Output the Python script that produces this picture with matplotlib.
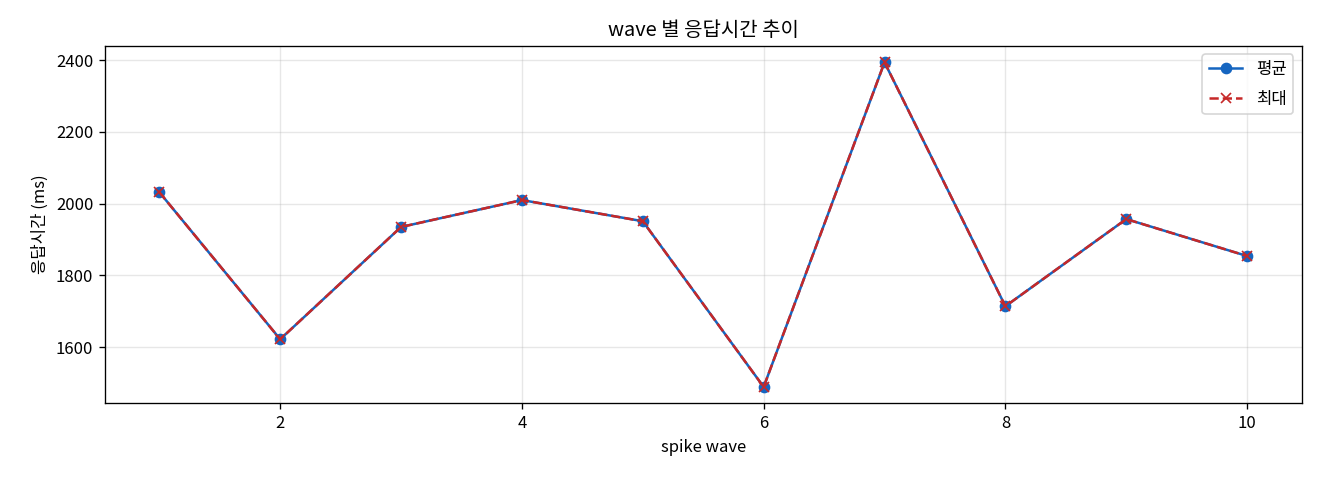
import matplotlib
matplotlib.use('Agg')
import matplotlib.pyplot as plt

plt.rcParams['font.family'] = ['Noto Sans CJK KR', 'DejaVu Sans']
plt.rcParams['axes.unicode_minus'] = False

waves = [1, 2, 3, 4, 5, 6, 7, 8, 9, 10]
avg_ms = [2032, 1622, 1935, 2010, 1951, 1489, 2394, 1714, 1957, 1854]
max_ms = [2032, 1622, 1935, 2010, 1951, 1489, 2394, 1714, 1957, 1854]

fig, ax = plt.subplots(figsize=(11, 4), dpi=120)
ax.plot(waves, avg_ms, marker='o', color='#1565C0', label='평균', linewidth=1.5, markersize=6)
ax.plot(waves, max_ms, marker='x', linestyle='--', color='#C62828', label='최대', linewidth=1.5, markersize=6)
ax.set_title('wave 별 응답시간 추이')
ax.set_xlabel('spike wave')
ax.set_ylabel('응답시간 (ms)')
ax.grid(True, alpha=0.3)
ax.legend(loc='upper right', labelspacing=0.75)
fig.subplots_adjust(left=0.0795, right=0.986, top=0.904, bottom=0.160)
fig.savefig('out.png')
